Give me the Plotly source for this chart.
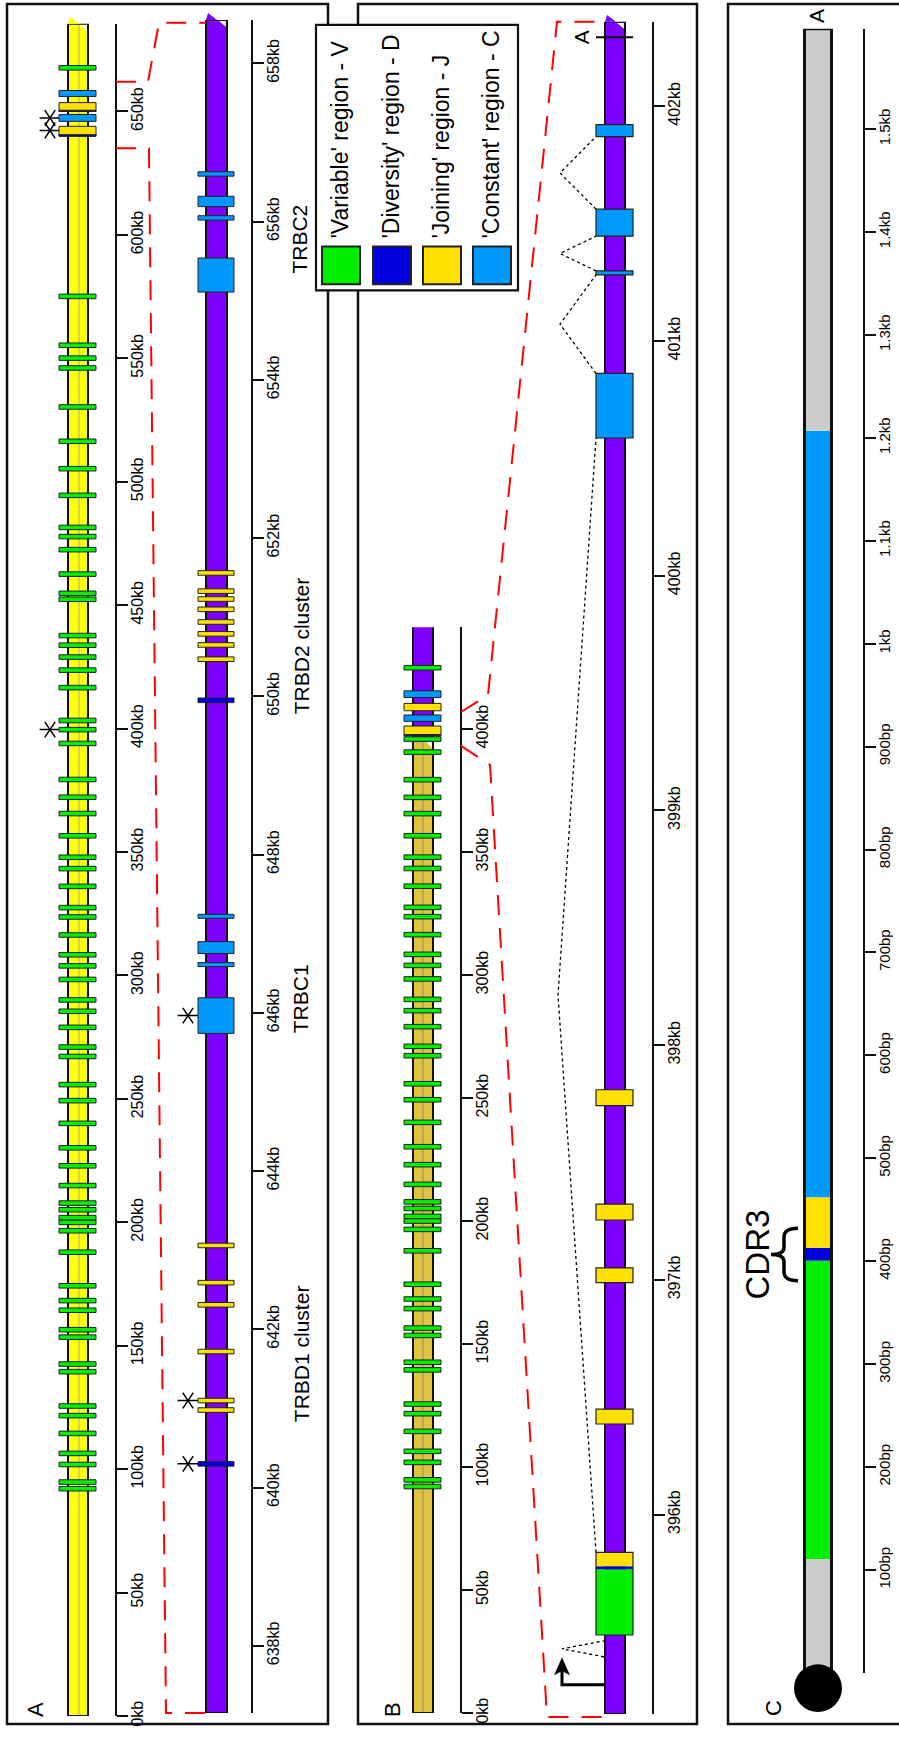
import plotly.graph_objects as go

W, H = 899, 1737
FONT = "Liberation Sans, Arial, Helvetica, sans-serif"

# ------------------------------------------------------------------ data
A_RANGE = [0.0, 685.5]
A_TICKS = [0, 50, 100, 150, 200, 250, 300, 350, 400, 450, 500, 550, 600, 650]
A_ZOOM_RANGE = [637.15, 658.55]
A_ZOOM_TICKS = [638, 640, 642, 644, 646, 648, 650, 652, 654, 656, 658]
B_RANGE = [0.0, 441.3]
B_TICKS = [0, 50, 100, 150, 200, 250, 300, 350, 400]
B_ZOOM_RANGE = [395.15, 402.36]
B_ZOOM_TICKS = [396, 397, 398, 399, 400, 401, 402]
C_RANGE = [0.0, 1597.5]
C_TICKS = [100, 200, 300, 400, 500, 600, 700, 800, 900, 1000, 1100, 1200, 1300, 1400, 1500]
C_TICK_TEXT = ["100bp", "200bp", "300bp", "400bp", "500bp", "600bp", "700bp", "800bp",
               "900bp", "1kb", "1.1kb", "1.2kb", "1.3kb", "1.4kb", "1.5kb"]

# V genes (kb) shared by the germline (A) and rearranged (B) overviews
V_SHARED = [92.1, 94.8, 101.9, 106.4, 114.5, 121.7, 125.6, 139.5, 142.6, 153.5, 156.5,
            164.4, 168.3, 174.3, 187.9, 196.6, 200.0, 201.9, 205.1, 207.8, 214.9, 222.9,
            230.2, 240.1, 249.3, 255.8, 267.2, 271.0, 279.0, 285.5, 290.1, 298.4, 303.9,
            308.4, 316.4, 323.7, 327.5, 336.1, 343.3, 347.9, 356.6, 365.6, 372.2, 379.4]
A_V_EXTRA = [394.0, 399.6, 403.3, 416.6, 423.7, 429.0, 433.8, 437.7, 452.4, 454.8, 462.6,
             472.5, 477.8, 481.5, 494.5, 505.3, 516.4, 530.3, 546.1, 550.1, 555.3, 575.1, 667.7]
A_BLOCK_TYPE = ["J", "D", "C", "J", "D", "C"]
A_BLOCK_START = [640.0, 640.0, 646.0, 650.0, 650.0, 656.1]
A_BLOCK_END = [644.0, 640.6, 648.8, 653.6, 650.5, 658.5]
A_STARS = [399.6, 642.3, 647.4]

A_ZOOM_D = [640.30, 649.95]
A_ZOOM_J = [640.98, 641.10, 641.72, 642.31, 642.59, 643.06,
            650.47, 650.65, 650.79, 650.94, 651.10, 651.23, 651.33, 651.56]
A_ZOOM_C_START = [645.74, 646.585, 646.75, 647.195, 655.11, 656.02, 656.19, 656.575]
A_ZOOM_C_END = [646.19, 646.635, 646.90, 647.245, 655.54, 656.075, 656.32, 656.63]
A_ZOOM_STARS = [640.30, 641.10, 645.965]

B_V_EXTRA = [390.6, 395.9, 424.9]
B_SWITCH = 394.8          # end of the V-region colour on the rearranged chromosome
B_BAR_END = 442.2
B_BLOCK_TYPE = ["J", "D", "C", "J", "C"]
B_BLOCK_START = [397.7, 397.2, 403.1, 407.4, 412.8]
B_BLOCK_END = [401.2, 397.7, 405.7, 410.4, 415.5]

B_ZOOM_VDJ_TYPE = ["V", "D", "J"]
B_ZOOM_VDJ_START = [395.487, 395.767, 395.780]
B_ZOOM_VDJ_END = [395.767, 395.780, 395.839]
B_ZOOM_J_START = [396.386, 396.988, 397.255, 397.742]
B_ZOOM_J_END = [396.449, 397.051, 397.323, 397.810]
B_ZOOM_C_START = [400.587, 401.282, 401.447, 401.871]
B_ZOOM_C_END = [400.862, 401.299, 401.562, 401.922]
B_PROMOTER = 395.275
B_LEADER_SPLICE = [395.394, 395.462]
B_POLYA = 402.295

C_SEG_TYPE = ["U", "V", "D", "J", "C", "U"]
C_SEG_START = [0, 110.6, 400.5, 413, 462, 1207]
C_SEG_END = [110.6, 400.5, 413, 462, 1207, 1597.5]
CDR3_SPAN = [381, 432]

A_ZOOM_BRACKET = [635.1, 662.1]
B_ZOOM_BRACKET = [393.1, 406.9]

LEGEND_LABELS = ["'Variable' region - V", "'Diversity' region - D",
                 "'Joining' region - J", "'Constant' region - C"]
LEGEND_TYPES = ["V", "D", "J", "C"]

# ------------------------------------------------------------------ style
COLORS = {"V": "#00EE00", "D": "#0000DD", "J": "#FFE000", "C": "#0099FF", "U": "#CCCCCC"}
YELLOW = "#FFFF08"
TAN = "#E0C43C"
PURPLE = "#7F00FF"
OUT = "#222222"

AXES = {
    "A":  dict(ref="y",  top=24,  bot=1726,   rng=A_RANGE,      x=116),
    "A2": dict(ref="y2", top=20,  bot=1723,   rng=A_ZOOM_RANGE, x=252),
    "B":  dict(ref="y3", top=631, bot=1723,   rng=B_RANGE,      x=461),
    "B2": dict(ref="y4", top=22,  bot=1724,   rng=B_ZOOM_RANGE, x=653),
    "C":  dict(ref="y5", top=29,  bot=1682.5, rng=C_RANGE,      x=864),
}
COL = {
    "A":  dict(bar=(68, 88), mark=(59, 96), star=50),
    "A2": dict(bar=(206, 227), mark=(198, 234), star=188),
    "B":  dict(bar=(413, 433), mark=(404, 441)),
    "B2": dict(bar=(605, 625), mark=(596, 633)),
    "C":  dict(bar=(804.5, 831.5)),
}


def ypix(ax, v):
    a = AXES[ax]
    lo, hi = a["rng"]
    return a["top"] + (hi - v) / (hi - lo) * (a["bot"] - a["top"])


def ppu(ax):
    a = AXES[ax]
    lo, hi = a["rng"]
    return (a["bot"] - a["top"]) / (hi - lo)


def X(px):
    return px / W


def Y(py):
    return 1 - py / H


shapes = []


def S(**kw):
    kw.setdefault("layer", "above")
    shapes.append(kw)


def rect_data(ax, x0, x1, v0, v1, fill, lw=1.0, lc=OUT):
    S(type="rect", xref="paper", yref=AXES[ax]["ref"], x0=X(x0), x1=X(x1), y0=v0, y1=v1,
      fillcolor=fill, line=dict(width=lw, color=lc))


def mark(ax, c, hpx, fill, lw=1.0):
    half = hpx / 2 / ppu(ax)
    x0, x1 = COL[ax]["mark"]
    rect_data(ax, x0, x1, c - half, c + half, fill, lw)


def rect_px(x0, y0, x1, y1, fill, lw, lc=OUT):
    S(type="rect", xref="paper", yref="paper", x0=X(x0), x1=X(x1), y0=Y(y0), y1=Y(y1),
      fillcolor=fill, line=dict(width=lw, color=lc))


def path_px(pts, fill=None, lw=1.0, lc="black", dash=None, close=False, cmd=None):
    if cmd is None:
        d = "M " + " L ".join(f"{X(x):.6f},{Y(y):.6f}" for x, y in pts)
    else:
        d = cmd
    if close:
        d += " Z"
    line = dict(width=lw, color=lc)
    if dash:
        line["dash"] = dash
    kw = dict(type="path", xref="paper", yref="paper", path=d, line=line)
    if fill:
        kw["fillcolor"] = fill
    S(**kw)


def bar_tip(ax, x0, x1, top_px, color):
    path_px([(x0, top_px), (x0 + 2, top_px - 7), (x0 + 11, top_px)], fill=color, lw=0,
            lc=color, close=True)
    path_px([(x1 - 8, top_px + 1.2), (x1 - 1.2, top_px + 1.2), (x1 - 1.2, top_px + 7)],
            fill="white", lw=0, lc="white", close=True)


# ------------------------------------------------------------------ panel frames
for (x0, x1) in [(7, 328), (358, 697), (728, 912)]:
    rect_px(x0, 4, x1, 1734, "rgba(0,0,0,0)", 2.5, "#111111")

# ------------------------------------------------------------------ panel A overview
ax = "A"
bx0, bx1 = COL[ax]["bar"]
rect_data(ax, bx0, bx1, A_RANGE[0], A_RANGE[1], YELLOW, 2, "#111111")
S(type="line", xref="paper", yref="y", x0=X((bx0 + bx1) / 2 + 1), x1=X((bx0 + bx1) / 2 + 1),
  y0=A_RANGE[0] + 0.6, y1=A_RANGE[1] - 0.6, line=dict(width=1, color="#B0A890"))
bar_tip(ax, bx0, bx1, ypix(ax, A_RANGE[1]), YELLOW)
for v in V_SHARED + A_V_EXTRA:
    mark(ax, v, 4.6, COLORS["V"])
mx0, mx1 = COL[ax]["mark"]
for t, s, e in zip(A_BLOCK_TYPE, A_BLOCK_START, A_BLOCK_END):
    rect_data(ax, mx0, mx1, s, e, COLORS[t], 1.0)

# ------------------------------------------------------------------ panel A zoom
ax = "A2"
bx0, bx1 = COL[ax]["bar"]
rect_data(ax, bx0, bx1, A_ZOOM_RANGE[0], A_ZOOM_RANGE[1], PURPLE, 2, "#111111")
bar_tip(ax, bx0, bx1, ypix(ax, A_ZOOM_RANGE[1]), PURPLE)
for v in A_ZOOM_J:
    mark(ax, v, 4.6, COLORS["J"])
for v in A_ZOOM_D:
    mark(ax, v, 4.6, COLORS["D"])
mx0, mx1 = COL[ax]["mark"]
for s, e in zip(A_ZOOM_C_START, A_ZOOM_C_END):
    rect_data(ax, mx0, mx1, s, e, COLORS["C"], 1.0)

# ------------------------------------------------------------------ panel B overview
ax = "B"
bx0, bx1 = COL[ax]["bar"]
rect_data(ax, bx0, bx1, 0, B_SWITCH, TAN, 0, TAN)
rect_data(ax, bx0, bx1, B_SWITCH, B_BAR_END, PURPLE, 0, PURPLE)
S(type="line", xref="paper", yref="y3", x0=X((bx0 + bx1) / 2), x1=X((bx0 + bx1) / 2),
  y0=0.5, y1=B_SWITCH, line=dict(width=1, color="#8C8590"))
rect_data(ax, bx0, bx1, 0, B_BAR_END, "rgba(0,0,0,0)", 2, "#111111")
sy = ypix(ax, B_SWITCH)
path_px([(bx1 - 7, sy), (bx1 - 1.2, sy), (bx1 - 1.2, sy + 6)], fill="white", lw=0,
        lc="white", close=True)
for v in V_SHARED + B_V_EXTRA:
    mark(ax, v, 4.6, COLORS["V"])
mx0, mx1 = COL[ax]["mark"]
for t, s, e in zip(B_BLOCK_TYPE, B_BLOCK_START, B_BLOCK_END):
    rect_data(ax, mx0, mx1, s, e, COLORS[t], 1.0)

# ------------------------------------------------------------------ panel B zoom
ax = "B2"
bx0, bx1 = COL[ax]["bar"]
mx0, mx1 = COL[ax]["mark"]
rect_data(ax, bx0, bx1, B_ZOOM_RANGE[0], B_ZOOM_RANGE[1], PURPLE, 2, "#111111")
bar_tip(ax, bx0, bx1, ypix(ax, B_ZOOM_RANGE[1]), PURPLE)
for t, s, e in zip(B_ZOOM_VDJ_TYPE, B_ZOOM_VDJ_START, B_ZOOM_VDJ_END):
    rect_data(ax, mx0, mx1, s, e, COLORS[t], 0, COLORS[t])
rect_data(ax, mx0, mx1, B_ZOOM_VDJ_START[0], B_ZOOM_VDJ_END[-1], "rgba(0,0,0,0)", 1.2)
for s, e in zip(B_ZOOM_J_START, B_ZOOM_J_END):
    rect_data(ax, mx0, mx1, s, e, COLORS["J"], 1.2)
for s, e in zip(B_ZOOM_C_START, B_ZOOM_C_END):
    rect_data(ax, mx0, mx1, s, e, COLORS["C"], 1.2)

# splicing (dotted) lines
def splice(a_end, b_start, apex_x, edge_x):
    y0, y1 = ypix("B2", a_end), ypix("B2", b_start)
    path_px([(edge_x, y0), (apex_x, (y0 + y1) / 2), (edge_x, y1)], lw=1.3, dash="dot",
            lc="black")

splice(B_ZOOM_VDJ_END[-1], B_ZOOM_C_START[0], 558, mx0)
for i in range(3):
    splice(B_ZOOM_C_END[i], B_ZOOM_C_START[i + 1], 560, mx0)
splice(B_LEADER_SPLICE[0], B_LEADER_SPLICE[1], 562, bx0 - 1)

# promoter arrow
py_ = ypix("B2", B_PROMOTER)
path_px([(bx0 - 1, py_), (562, py_), (562, py_ - 22)], lw=3, lc="black")
tip = py_ - 27
path_px([(562, tip), (554.5, tip + 17), (562, tip + 13), (569.5, tip + 17)], fill="black",
        lw=0.5, lc="black", close=True)

# poly-A marker
ay = ypix("B2", B_POLYA)
path_px([(mx0, ay), (mx1, ay)], lw=2, lc="black")

# ------------------------------------------------------------------ red zoom guides
def guide(p_axis_x, p_y, dx, dy, bend2_x, zoom_y, bar_x):
    pts = [(p_axis_x, p_y), (p_axis_x + dx, p_y + dy), (bend2_x, zoom_y), (bar_x, zoom_y)]
    path_px(pts, lw=2, lc="#FF0000", dash="20px,13px")

guide(AXES["A"]["x"], ypix("A", A_ZOOM_BRACKET[1]), 32, 0, 159,
      ypix("A2", A_ZOOM_RANGE[1]) + 3, COL["A2"]["bar"][0])
guide(AXES["A"]["x"], ypix("A", A_ZOOM_BRACKET[0]), 33, 0, 166,
      ypix("A2", A_ZOOM_RANGE[0]), COL["A2"]["bar"][0])
guide(AXES["B"]["x"], ypix("B", B_ZOOM_BRACKET[1]), 27, -17, 557,
      ypix("B2", B_ZOOM_RANGE[1]), COL["B2"]["bar"][0])
guide(AXES["B"]["x"], ypix("B", B_ZOOM_BRACKET[0]), 29, 19, 547,
      ypix("B2", B_ZOOM_RANGE[0]) + 3, COL["B2"]["bar"][0])

# ------------------------------------------------------------------ panel C
ax = "C"
cx0, cx1 = COL[ax]["bar"]
for t, s, e in zip(C_SEG_TYPE, C_SEG_START, C_SEG_END):
    rect_data(ax, cx0, cx1, s, e, COLORS[t], 0, COLORS[t])
rect_data(ax, cx0, cx1, C_SEG_START[0], C_SEG_END[-1], "rgba(0,0,0,0)", 3, "#111111")
cy = ypix(ax, 0) + 15.5
ccx = (cx0 + cx1) / 2
S(type="circle", xref="paper", yref="paper", x0=X(ccx - 24), x1=X(ccx + 24), y0=Y(cy - 24),
  y1=Y(cy + 24), fillcolor="black", line=dict(width=0, color="black"))

# CDR3 brace
yt, yb = ypix(ax, CDR3_SPAN[1]), ypix(ax, CDR3_SPAN[0])
ym = (yt + yb) / 2
xt, xm, xe = 771, 784, 798
P = lambda x, y: f"{X(x):.6f},{Y(y):.6f}"
brace = (f"M {P(xe, yt)} Q {P(xm, yt)} {P(xm, yt + 9)} L {P(xm, ym - 7)} "
         f"Q {P(xm, ym)} {P(xt, ym)} Q {P(xm, ym)} {P(xm, ym + 7)} L {P(xm, yb - 9)} "
         f"Q {P(xm, yb)} {P(xe, yb)}")
path_px(None, lw=3.5, lc="black", cmd=brace)

# ------------------------------------------------------------------ legend
rect_px(316, 25, 518, 292, "white", 2.2, "#111111")
SW_X = [322, 373, 423, 473]
for t, x0 in zip(LEGEND_TYPES, SW_X):
    rect_px(x0, 248, x0 + 38, 286, COLORS[t], 2, OUT)

# ------------------------------------------------------------------ annotations
annotations = []


def ann(text, x, y, size, xanchor="center", yanchor="middle", angle=-90):
    annotations.append(dict(text=text, x=X(x), y=Y(y), xref="paper", yref="paper",
                            showarrow=False, textangle=angle, xanchor=xanchor,
                            yanchor=yanchor, font=dict(family=FONT, size=size, color="black")))


for lab, x0 in zip(LEGEND_LABELS, SW_X):
    ann(lab, x0 + 18, 242, 23, yanchor="bottom")
ann("A", 35, 1720, 22)
ann("B", 392, 1720, 22)
ann("C", 773, 1718, 22)
ann("TRBC2", 300, 241, 21)
ann("TRBC1", 300, 1005, 21)
ann("TRBD2 cluster", 301, 650, 21)
ann("TRBD1 cluster", 301, 1362, 21)
ann("A", 581, ay, 21)
ann("A", 817, 16, 21)
ann("CDR3", 757, ym, 33)

# ------------------------------------------------------------------ figure
fig = go.Figure()
layout = dict(width=W, height=H, margin=dict(l=0, r=0, t=0, b=0), paper_bgcolor="white",
              plot_bgcolor="rgba(0,0,0,0)", showlegend=False, shapes=shapes,
              annotations=annotations, font=dict(family=FONT, color="black"))

tick_specs = {
    "A": (A_TICKS, [f"{v}kb" for v in A_TICKS], 16),
    "A2": (A_ZOOM_TICKS, [f"{v}kb" for v in A_ZOOM_TICKS], 16),
    "B": (B_TICKS, [f"{v}kb" for v in B_TICKS], 16),
    "B2": (B_ZOOM_TICKS, [f"{v}kb" for v in B_ZOOM_TICKS], 16),
    "C": (C_TICKS, C_TICK_TEXT, 15),
}
for i, key in enumerate(["A", "A2", "B", "B2", "C"], start=1):
    a = AXES[key]
    yname = "yaxis" if i == 1 else f"yaxis{i}"
    xname = "xaxis" if i == 1 else f"xaxis{i}"
    tv, tt, fs = tick_specs[key]
    layout[yname] = dict(domain=[Y(a["bot"]), Y(a["top"])], range=list(a["rng"]),
                         autorange=False, anchor="free", position=X(a["x"]), side="right",
                         showline=True, linecolor="#111111", linewidth=2, ticks="outside",
                         ticklen=11, tickwidth=2, tickcolor="#111111", tickvals=tv,
                         ticktext=tt, tickangle=-90, ticklabelstandoff=-4,
                         tickfont=dict(family=FONT, size=fs, color="black"),
                         showgrid=False, zeroline=False, fixedrange=True)
    layout[xname] = dict(domain=[0, 1], range=[0, 1], autorange=False, visible=False,
                         anchor="y" if i == 1 else f"y{i}", fixedrange=True)
    fig.add_trace(go.Scatter(x=[None], y=[None], xaxis="x" if i == 1 else f"x{i}",
                             yaxis="y" if i == 1 else f"y{i}", mode="markers",
                             hoverinfo="skip", showlegend=False))

# asterisks (six-spoked) as markers
def stars(key, values):
    i = ["A", "A2", "B", "B2", "C"].index(key) + 1
    for sym in ["y-up-open", "y-down-open"]:
        fig.add_trace(go.Scatter(
            x=[X(COL[key]["star"])] * len(values), y=values,
            xaxis="x" if i == 1 else f"x{i}", yaxis="y" if i == 1 else f"y{i}",
            mode="markers", cliponaxis=False, hoverinfo="skip", showlegend=False,
            marker=dict(symbol=sym, angle=90, size=13, color="black",
                        line=dict(width=1.5, color="black"))))

stars("A", A_STARS)
stars("A2", A_ZOOM_STARS)

fig.update_layout(**layout)
fig.write_html("out.html")
